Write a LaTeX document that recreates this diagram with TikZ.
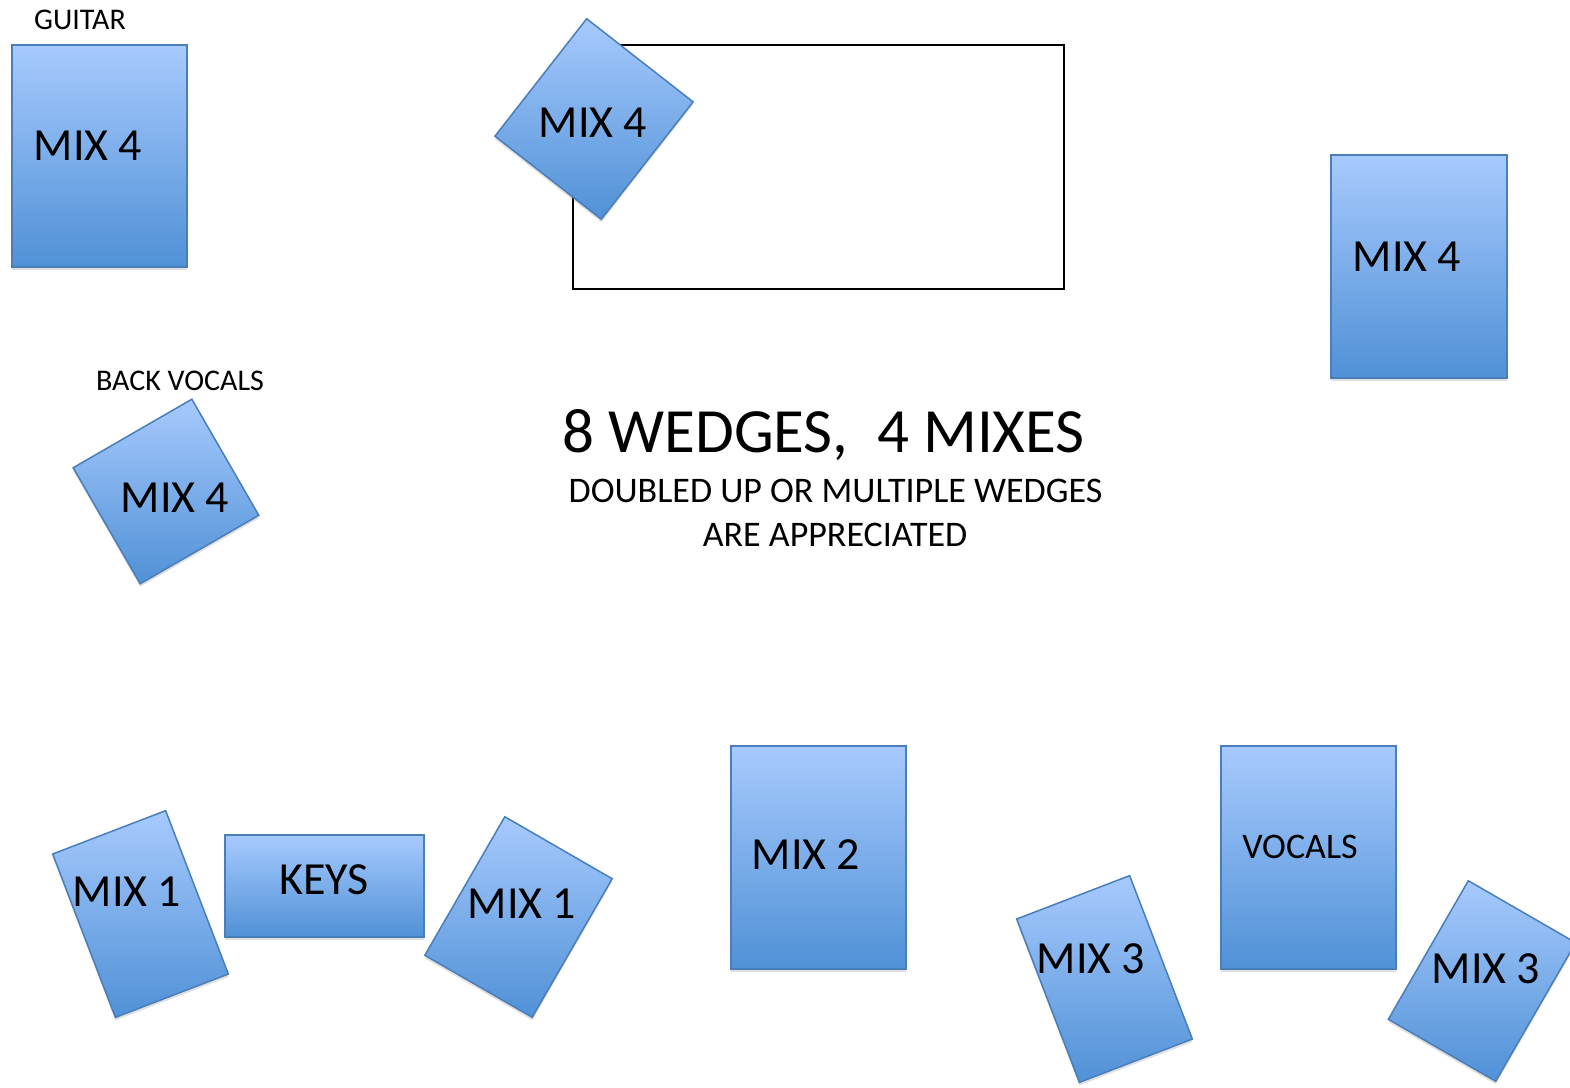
\documentclass[tikz,border=0pt]{standalone}
\usepackage{fontspec}
\setmainfont{Carlito}
\usetikzlibrary{shadows}
\definecolor{wedgetop}{RGB}{167,202,254}
\definecolor{wedgebot}{RGB}{80,145,214}
\definecolor{wedgeline}{RGB}{74,126,187}
\begin{document}
\begin{tikzpicture}[x=1pt,y=-1pt,
    wedge/.style={shade,top color=wedgetop,bottom color=wedgebot,draw=wedgeline,
      line width=1.5pt,inner sep=0pt,
      drop shadow={shadow xshift=0pt,shadow yshift=-3pt,opacity=.25}},
    mix/.style={anchor=base,inner sep=0pt,font=\fontsize{46}{52}\selectfont},
    tag/.style={anchor=base,inner sep=0pt,font=\fontsize{30}{36}\selectfont}]

      \useasboundingbox (0,0) rectangle (1570,1087);
      \clip (0,0) rectangle (1570,1087);

      % riser
      \node (riser) [draw,line width=2.5pt,minimum width=491pt,minimum height=244pt] at (818.5,167) {};

      \begin{scope}[every node/.style={wedge}]
        \node (w1)  [minimum width=175pt,minimum height=222pt] at (99.5,156) {};
        \node (w2)  [minimum width=135pt,minimum height=149pt,rotate=-38] at (594,119) {};
        \node (w3)  [minimum width=176pt,minimum height=223pt] at (1419,266.5) {};
        \node (w4)  [minimum width=137pt,minimum height=134pt,rotate=30] at (166,491.5) {};
        \node (w5)  [minimum width=121pt,minimum height=175pt,rotate=21] at (140.5,914) {};
        \node (keys) [minimum width=199pt,minimum height=102pt] at (324.5,886) {};
        \node (w6)  [minimum width=124pt,minimum height=160pt,rotate=-30] at (518.5,917) {};
        \node (w7)  [minimum width=175pt,minimum height=223pt] at (818.5,857.5) {};
        \node (voc) [minimum width=175pt,minimum height=223pt] at (1308.5,857.5) {};
        \node (w8)  [minimum width=121pt,minimum height=175pt,rotate=21] at (1104.5,979) {};
        \node (w9)  [minimum width=124pt,minimum height=160pt,rotate=-30] at (1482,981) {};
      \end{scope}

      % labels
      \node (guitar)  [tag] at (80,29) {GUITAR};
      \node (backvoc) [tag] at (180,390) {BACK VOCALS};

      \node (l1) [mix] at (88,160) {MIX 4};
      \node (l2) [mix] at (593,137) {MIX 4};
      \node (l3) [mix] at (1407,271) {MIX 4};
      \node (l4) [mix] at (175,512) {MIX 4};
      \node (l5) [mix] at (127,906) {MIX 1};
      \node (lk) [mix] at (324,894) {KEYS};
      \node (l6) [mix] at (522,918) {MIX 1};
      \node (l7) [mix] at (806,869) {MIX 2};
      \node (lv) [anchor=base,inner sep=0pt,font=\fontsize{36}{44}\selectfont] at (1300,858) {VOCALS};
      \node (l8) [mix] at (1091,973) {MIX 3};
      \node (l9) [mix] at (1486,983) {MIX 3};

      \node (title) [anchor=base,inner sep=0pt,font=\fontsize{63}{70}\selectfont] at (823.5,452) {8 WEDGES,\ \ 4 MIXES};
      \node (note1) [anchor=base,inner sep=0pt,font=\fontsize{36}{44}\selectfont] at (835.5,502) {DOUBLED UP OR MULTIPLE WEDGES};
      \node (note2) [anchor=base,inner sep=0pt,font=\fontsize{36}{44}\selectfont] at (835,546) {ARE APPRECIATED};

    \end{tikzpicture}
\end{document}
